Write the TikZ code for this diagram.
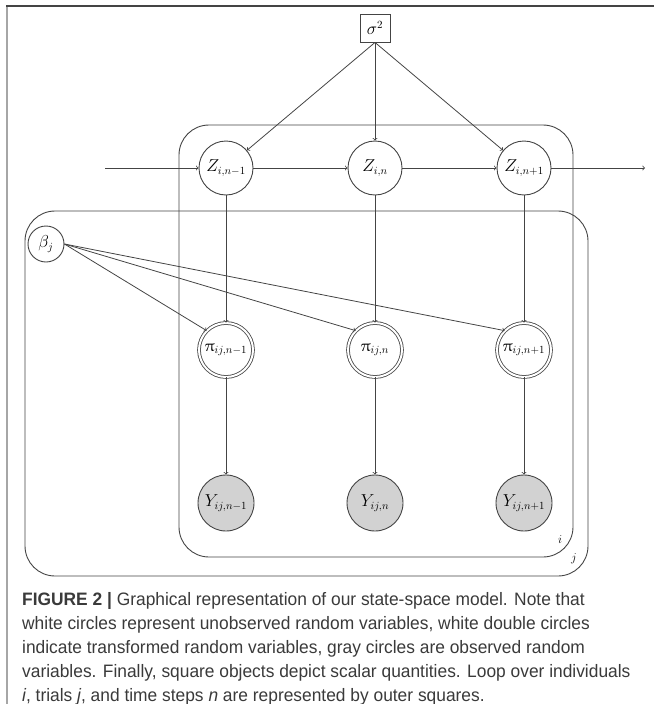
\documentclass[tikz,border=0pt]{standalone}
\usepackage{fontspec}
\usepackage{upgreek}
\newfontfamily\capfont[FakeStretch=0.965]{Liberation Sans}
\definecolor{capgray}{HTML}{3A3A3A}
\definecolor{yfill}{HTML}{D2D2D2}
\definecolor{linegray}{HTML}{444444}
\begin{document}
\begin{tikzpicture}[x=1pt,y=-1pt,
  every node/.style={font=\fontsize{16}{18}\selectfont},
  var/.style={circle,draw=linegray,line width=0.9pt,minimum size=54pt,inner sep=0pt},
  tvar/.style={circle,draw=linegray,line width=0.8pt,double,double distance=2pt,minimum size=54pt,inner sep=0pt},
  ovar/.style={circle,draw=linegray,line width=0.9pt,fill=yfill,minimum size=56pt,inner sep=0pt},
  sbox/.style={draw=linegray,line width=0.9pt,minimum width=30pt,minimum height=28pt,inner sep=0pt},
  plate/.style={draw=linegray,line width=0.9pt,rounded corners=30pt},
  arr/.style={->,draw=linegray,line width=0.8pt},
  capline/.style={anchor=base west,inner sep=0pt,text=capgray,font=\capfont\fontsize{18}{22}\selectfont}
]
\useasboundingbox (0,0) rectangle (654,704);
% frame
\draw[line width=1.6pt,color=gray!70] (7,704) -- (7,6);
\draw[line width=1.4pt,color=linegray] (6.2,6) -- (654,6);
% plates
\draw[plate] (179,125) rectangle (573,557);
\draw[plate] (25,211) rectangle (588,576);
\node[inner sep=0pt,font=\fontsize{13}{15}\selectfont] (li) at (560,540) {$i$};
\node[inner sep=0pt,font=\fontsize{13}{15}\selectfont] (lj) at (574,559) {$j$};
% nodes
\node[sbox,fill=white] (s) at (375,28) {$\sigma^2$};
\node[var,fill=white] (z1) at (226,168) {$Z_{i,n-1}$};
\node[var,fill=white] (z2) at (375,168) {$Z_{i,n}$};
\node[var,fill=white] (z3) at (524,168) {$Z_{i,n+1}$};
\node[var,minimum size=36pt,fill=white] (b) at (46,244) {$\beta_j$};
\node[tvar,fill=white] (p1) at (226,350) {$\uppi_{ij,n-1}$};
\node[tvar,fill=white] (p2) at (375,350) {$\uppi_{ij,n}$};
\node[tvar,fill=white] (p3) at (524,350) {$\uppi_{ij,n+1}$};
\node[ovar] (y1) at (226,503) {$Y_{ij,n-1}$};
\node[ovar] (y2) at (375,503) {$Y_{ij,n}$};
\node[ovar] (y3) at (524,503) {$Y_{ij,n+1}$};
\coordinate (in) at (105,168);
\coordinate (out) at (645,168);
% edges
\draw[arr] (s.south) -- (z1);
\draw[arr] (s.south) -- (z2);
\draw[arr] (s.south) -- (z3);
\draw[arr] (in) -- (z1);
\draw[arr] (z1) -- (z2);
\draw[arr] (z2) -- (z3);
\draw[arr] (z3) -- (out);
\draw[arr] (z1) -- (p1);
\draw[arr] (z2) -- (p2);
\draw[arr] (z3) -- (p3);
\draw[arr] (b.east) -- (p1.135);
\draw[arr] (b.east) -- (p2.135);
\draw[arr] (b.east) -- (p3.135);
\draw[arr] (p1) -- (y1);
\draw[arr] (p2) -- (y2);
\draw[arr] (p3) -- (y3);
% caption
\node[capline] (c1) at (22,605) {\textbf{FIGURE 2 |} Graphical representation of our state-space model. Note that};
\node[capline] (c2) at (22,629) {white circles represent unobserved random variables, white double circles};
\node[capline] (c3) at (22,653) {indicate transformed random variables, gray circles are observed random};
\node[capline] (c4) at (22,677) {variables. Finally, square objects depict scalar quantities. Loop over individuals};
\node[capline] (c5) at (22,701) {\textit{i}, trials \textit{j}, and time steps \textit{n} are represented by outer squares.};
\end{tikzpicture}
\end{document}
